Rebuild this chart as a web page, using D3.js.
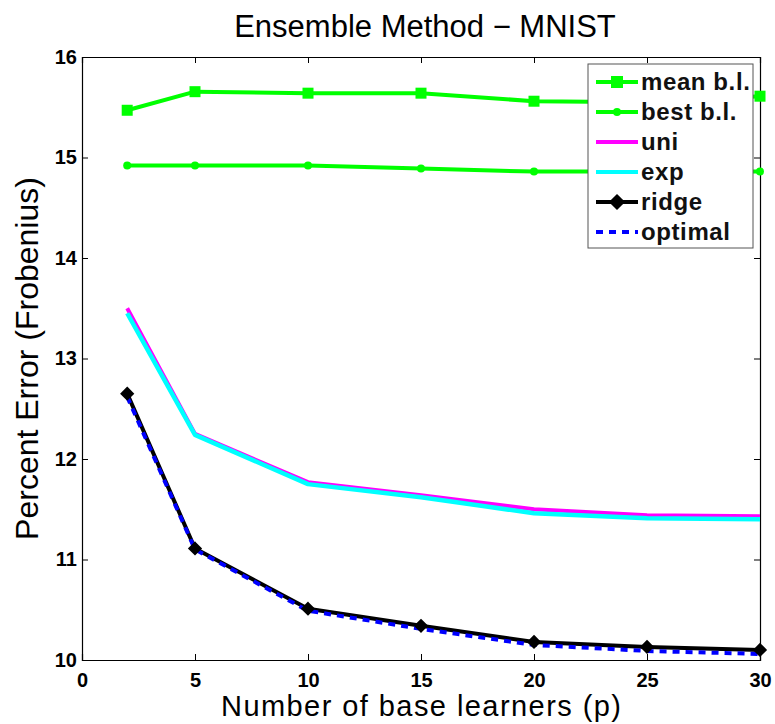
<!DOCTYPE html>
<html><head><meta charset="utf-8">
<script src="https://cdn.jsdelivr.net/npm/d3@7"></script>
<style>body{margin:0;background:#fff}</style>
</head><body><svg id="c" width="775" height="724"></svg>
<script>
const xs = [2, 5, 10, 15, 20, 25, 30];
const meanBL = [15.47, 15.655, 15.64, 15.64, 15.56, 15.55, 15.61];
const bestBL = [14.92, 14.92, 14.92, 14.89, 14.86, 14.86, 14.86];
const uni = [13.5, 12.25, 11.77, 11.64, 11.5, 11.44, 11.43];
const expW = [13.45, 12.24, 11.75, 11.62, 11.46, 11.41, 11.40];
const ridge = [12.65, 11.11, 10.51, 10.34, 10.18, 10.13, 10.10];
const optimal = [12.62, 11.10, 10.49, 10.31, 10.15, 10.09, 10.06];
const xTicks = [0, 5, 10, 15, 20, 25, 30];
const yTicks = [10, 11, 12, 13, 14, 15, 16];

const svg = d3.select("#c");
const L = 82, R = 760, T = 57, B = 660;
const x = d3.scaleLinear().domain([0, 30]).range([L, R]);
const y = d3.scaleLinear().domain([10, 16]).range([B, T]);
const font = "Liberation Sans, Arial, sans-serif";

// axes with inward ticks
const tl = 6;
const g = svg.append("g");
const xb = g.append("g").attr("transform", `translate(0,${B})`)
  .call(d3.axisBottom(x).tickValues(xTicks).tickSize(-tl).tickFormat(d3.format("d")));
xb.selectAll(".tick text").attr("dy", null).attr("y", 27);
g.append("g").attr("transform", `translate(0,${T})`)
  .call(d3.axisTop(x).tickValues(xTicks).tickSize(-tl).tickFormat(""));
g.append("g").attr("transform", `translate(${L},0)`)
  .call(d3.axisLeft(y).tickValues(yTicks).tickSize(-tl).tickPadding(5).tickFormat(d3.format("d")));
g.append("g").attr("transform", `translate(${R},0)`)
  .call(d3.axisRight(y).tickValues(yTicks).tickSize(-tl).tickFormat(""));
g.selectAll(".domain").attr("stroke", "#000").attr("stroke-width", 1.2);
g.selectAll(".tick line").attr("stroke", "#000").attr("stroke-width", 1);
g.selectAll(".tick text").attr("font-family", font).attr("font-size", 20).attr("font-weight", "bold").attr("fill", "#000");

const line = d3.line().x((d, i) => x(xs[i])).y(d => y(d));
function drawLine(data, color, w, dash) {
  svg.append("path").datum(data).attr("d", line).attr("fill", "none")
    .attr("stroke", color).attr("stroke-width", w)
    .attr("stroke-dasharray", dash || null).attr("stroke-linejoin", "round");
}
drawLine(meanBL, "#00ff00", 4);
drawLine(bestBL, "#00ff00", 4);
drawLine(uni, "#ff00ff", 4);
drawLine(expW, "#00ffff", 4.5);
drawLine(ridge, "#000000", 4);
drawLine(optimal, "#0000ff", 4, "7,6");

// markers
svg.append("g").selectAll("rect").data(meanBL).join("rect")
  .attr("x", (d, i) => x(xs[i]) - 5.5).attr("y", d => y(d) - 5.5)
  .attr("width", 11).attr("height", 11).attr("fill", "#00ff00");
svg.append("g").selectAll("circle").data(bestBL).join("circle")
  .attr("cx", (d, i) => x(xs[i])).attr("cy", d => y(d)).attr("r", 4).attr("fill", "#00ff00");
const diamond = s => `M0,${-s}L${s},0L0,${s}L${-s},0Z`;
svg.append("g").selectAll("path").data(ridge).join("path")
  .attr("transform", (d, i) => `translate(${x(xs[i])},${y(d)})`)
  .attr("d", diamond(5)).attr("fill", "#000").attr("stroke", "#000").attr("stroke-width", 3);

// Legend
const lg = svg.append("g");
lg.append("rect").attr("x", 588).attr("y", 64).attr("width", 165).attr("height", 184)
  .attr("fill", "#fff").attr("stroke", "#555").attr("stroke-width", 1);
const items = [
  {n: "mean b.l.", c: "#00ff00", m: "sq"},
  {n: "best b.l.", c: "#00ff00", m: "dot"},
  {n: "uni", c: "#ff00ff"},
  {n: "exp", c: "#00ffff"},
  {n: "ridge", c: "#000", m: "dia"},
  {n: "optimal", c: "#0000ff", dash: "7,6"}
];
items.forEach((it, i) => {
  const yy = 82 + i * 30;
  lg.append("line").attr("x1", 596).attr("x2", 638).attr("y1", yy).attr("y2", yy)
    .attr("stroke", it.c).attr("stroke-width", 4).attr("stroke-dasharray", it.dash || null);
  if (it.m === "sq") lg.append("rect").attr("x", 617 - 6).attr("y", yy - 6).attr("width", 12).attr("height", 12).attr("fill", it.c);
  if (it.m === "dot") lg.append("circle").attr("cx", 617).attr("cy", yy).attr("r", 4).attr("fill", it.c);
  if (it.m === "dia") lg.append("path").attr("transform", `translate(617,${yy})`).attr("d", diamond(6)).attr("fill", "#000").attr("stroke", "#000").attr("stroke-width", 3);
  lg.append("text").attr("x", 641).attr("y", yy + 8).text(it.n)
    .attr("font-family", font).attr("font-weight", "bold").attr("font-size", 24)
    .attr("letter-spacing", 0.6).attr("fill", "#111");
});

// Titles
svg.append("text").attr("x", 425).attr("y", 37).attr("text-anchor", "middle")
  .attr("font-family", font).attr("font-size", 31).text("Ensemble Method \u2212 MNIST");
svg.append("text").attr("x", 421).attr("y", 716).attr("text-anchor", "middle")
  .attr("font-family", font).attr("font-size", 29).attr("textLength", 400).attr("lengthAdjust", "spacing")
  .text("Number of base learners (p)");
svg.append("text").attr("transform", `translate(38,${(T + B) / 2}) rotate(-90)`).attr("text-anchor", "middle")
  .attr("font-family", font).attr("font-size", 32).text("Percent Error (Frobenius)");
</script></body></html>
